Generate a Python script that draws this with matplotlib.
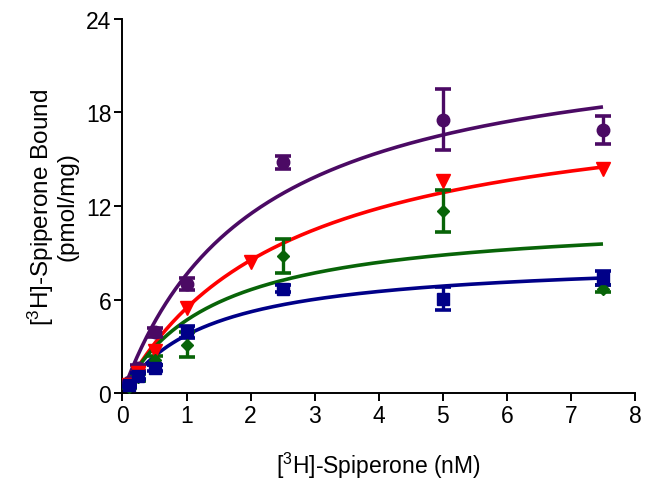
import numpy as np
import matplotlib
matplotlib.use("Agg")
import matplotlib.pyplot as plt

plt.rcParams['font.family'] = ['Liberation Sans', 'DejaVu Sans']
plt.rcParams['mathtext.fontset'] = 'custom'
plt.rcParams['mathtext.rm'] = 'Liberation Sans'
plt.rcParams['mathtext.it'] = 'Liberation Sans'

# Concentrations (nM)
conc = [0.1, 0.25, 0.5, 1, 2.5, 5, 7.5]
conc_red = [0.1, 0.25, 0.5, 1, 2, 5, 7.5]

# Specific binding (pmol/mg) and SEM
purple_y = [0.7, 1.6, 3.9, 7.0, 14.8, 17.55, 16.9]
purple_err = [0.1, 0.2, 0.3, 0.4, 0.4, 1.95, 0.9]
red_y = [0.5, 1.3, 2.7, 5.45, 8.4, 13.6, 14.35]
red_err = [0, 0, 0, 0, 0, 0, 0]
green_y = [0.4, 1.0, 2.1, 3.1, 8.8, 11.65, 6.7]
green_err = [0.1, 0.2, 0.3, 0.8, 1.1, 1.35, 0.2]
blue_y = [0.5, 1.1, 1.6, 3.9, 6.7, 6.05, 7.4]
blue_err = [0.1, 0.2, 0.2, 0.4, 0.2, 0.75, 0.45]

# One-site saturation fit parameters (Bmax in pmol/mg, Kd in nM)
purple_fit = (23.45, 2.08)
red_fit = (19.47, 2.57)
green_fit = (11.4, 1.44)
blue_fit = (8.7, 1.34)

x_ticks = [0, 1, 2, 3, 4, 5, 6, 7, 8]
y_ticks = [0, 6, 12, 18, 24]

fig = plt.figure(figsize=(6.46, 4.85), dpi=100)
ax = fig.add_axes([0.1896, 0.1876, 0.983 - 0.1896, 0.9588 - 0.1876])

xs = np.linspace(0, 7.5, 300)

series = [
    (conc, purple_y, purple_err, purple_fit, '#4b0a64', 'o', 9),
    (conc_red, red_y, red_err, red_fit, '#ff0000', 'v', 10.5),
    (conc, green_y, green_err, green_fit, '#086408', 'D', 6.5),
    (conc, blue_y, blue_err, blue_fit, '#000088', 's', 8.5),
]

for x, y, e, (bmax, kd), color, marker, ms in series:
    ax.plot(xs, bmax * xs / (kd + xs), color=color, lw=2.6, zorder=2,
            solid_capstyle='butt')
    has_err = any(v > 0 for v in e)
    ax.errorbar(x, y, yerr=e if has_err else None, fmt=marker, color=color,
                ms=ms, elinewidth=2.4, capsize=5.5 if has_err else 0,
                capthick=2.6, zorder=3)

ax.set_xlim(0, 8)
ax.set_ylim(0, 24)
ax.set_xticks(x_ticks)
ax.set_yticks(y_ticks)
ax.spines['top'].set_visible(False)
ax.spines['right'].set_visible(False)
for s in ('left', 'bottom'):
    ax.spines[s].set_linewidth(1.4)
ax.tick_params(axis='both', direction='out', length=5.5, width=1.4,
               labelsize=16.5, pad=2.5)

fig.text(0.5 * (0.1896 + 0.983), 19 / 485, r'[$^{3}$H]-Spiperone (nM)',
         fontsize=16.5, ha='center', va='center')
fig.text(52 / 646, 0.5 * (0.1876 + 0.9588),
         '[$^{3}$H]-Spiperone Bound\n(pmol/mg)', fontsize=17.5,
         rotation=90, ha='center', va='center', multialignment='center',
         linespacing=1.05)

fig.savefig('out.png', dpi=100)
